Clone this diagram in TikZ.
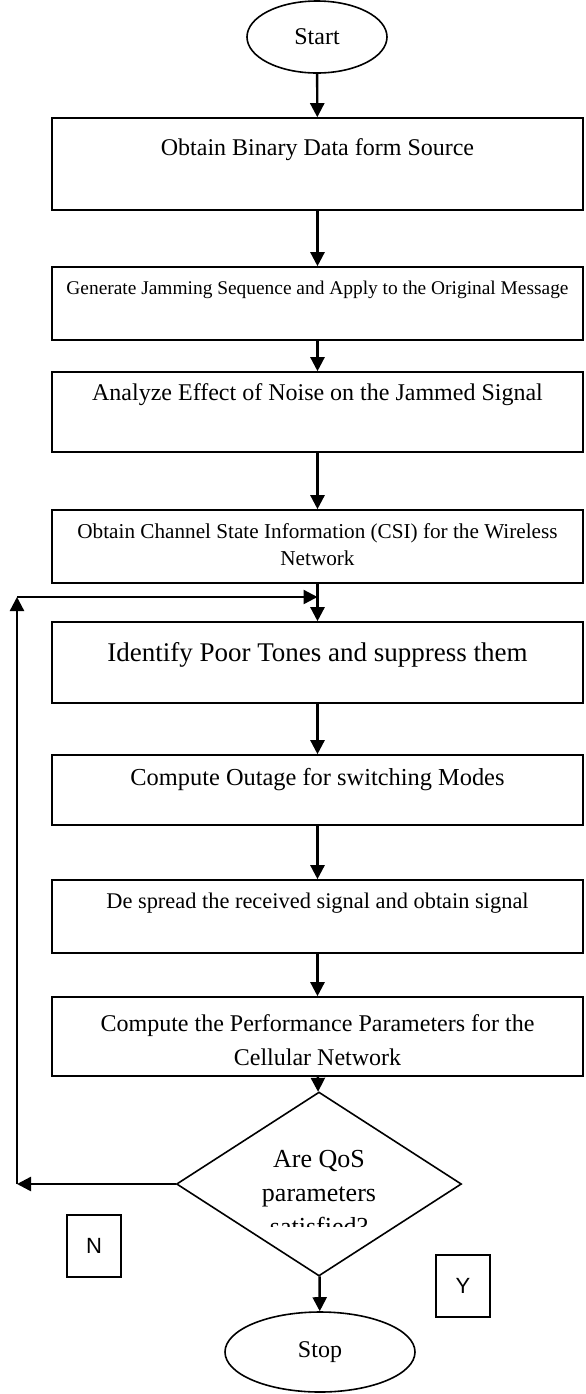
\documentclass[tikz,border=0pt]{standalone}
\usepackage{fontspec}
\setmainfont{Liberation Serif}
\newfontfamily\yesno{Liberation Sans}
\usetikzlibrary{shapes.geometric,arrows.meta}
\newcommand{\fsz}[1]{\fontsize{#1}{#1}\selectfont}

\begin{document}
\begin{tikzpicture}[x=0.5pt,y=-0.5pt,
  stepbox/.style={draw,line width=0.8pt,minimum width=265.5pt,inner sep=0pt},
  term/.style={draw,ellipse,line width=0.8pt,inner sep=0pt,font=\fsz{12}},
  flow/.style={line width=1.2pt,-{Triangle[length=7pt,width=7pt]}},
  tag/.style={draw,line width=0.8pt,minimum width=27pt,minimum height=31pt,inner sep=0pt,font=\yesno\fsz{11}}]
\useasboundingbox (0,0) rectangle (585,1394);

\node[term,minimum width=70pt,minimum height=36pt] (start) at (317,37) {Start};

\node[stepbox,minimum height=46pt] (b1) at (317.5,164) {};
\node at (317.5,150) {\fsz{12}Obtain Binary Data form Source};
\node[stepbox,minimum height=36.5pt] (b2) at (317.5,303.5) {};
\node at (317.5,290) {\fsz{9.7}Generate Jamming Sequence and Apply to the Original Message};
\node[stepbox,minimum height=40pt] (b3) at (317.5,412) {};
\node at (317.5,395) {\fsz{12}Analyze Effect of Noise on the Jammed Signal};
\node[stepbox,minimum height=36.5pt] (b4) at (317.5,546.5) {};
\node at (317.5,533) {\fsz{10.6}Obtain Channel State Information (CSI) for the Wireless};
\node at (317.5,558) {\fsz{10.6}Network};
\node[stepbox,minimum height=40.5pt] (b5) at (317.5,662.5) {};
\node at (317.5,655) {\fsz{13.5}Identify Poor Tones and suppress them};
\node[stepbox,minimum height=35pt] (b6) at (317.5,790) {};
\node at (317.5,780) {\fsz{12.2}Compute Outage for switching Modes};
\node[stepbox,minimum height=36.5pt] (b7) at (317.5,916.5) {};
\node at (317.5,903) {\fsz{11.2}De spread the received signal and obtain signal};
\node[stepbox,minimum height=39.5pt] (b8) at (317.5,1036.5) {};
\node at (317.5,1026) {\fsz{12}Compute the Performance Parameters for the};
\node at (317.5,1057) {\fsz{12}Cellular Network};

\node[draw,diamond,line width=0.8pt,minimum width=142.5pt,minimum height=92pt,inner sep=0pt] (dec) at (319,1184) {};
\node[anchor=base] at (319,1167) {\fsz{13}Are QoS};
\node[anchor=base] at (319,1201) {\fsz{13}parameters};
\begin{scope}
\clip (240,1200) rectangle (400,1226);
\node[anchor=base] at (319,1235) {\fsz{13}satisfied?};
\end{scope}

\node[term,minimum width=95pt,minimum height=40pt] (stop) at (320,1352) {Stop};
\node[tag] (no) at (94,1246) {N};
\node[tag] (yes) at (463,1286) {Y};

\coordinate (lc) at (17,1184);
\coordinate (lt) at (17,597);
\coordinate (lm) at (317.5,597);

\draw[flow] (start) -- (b1);
\draw[flow] (b1) -- (b2);
\draw[flow] (b2) -- (b3);
\draw[flow] (b3) -- (b4);
\draw[flow] (b4) -- (b5);
\draw[flow] (b5) -- (b6);
\draw[flow] (b6) -- (b7);
\draw[flow] (b7) -- (b8);
\draw[flow] (b8) -- (dec);
\draw[flow] (dec) -- (stop);
\draw[flow] (dec.west) -- (lc);
\draw[flow] (lc) -- (lt);
\draw[flow] (lt) -- (lm);

\end{tikzpicture}
\end{document}
